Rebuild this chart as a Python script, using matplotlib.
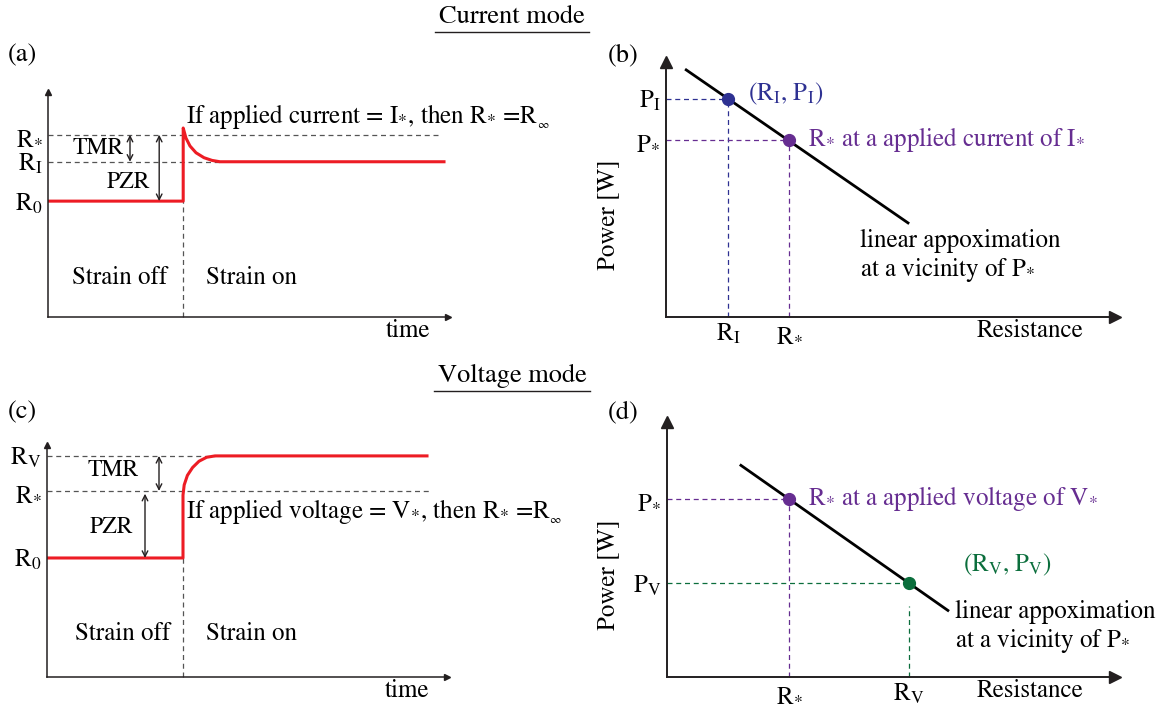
import matplotlib
matplotlib.use("Agg")
import matplotlib.pyplot as plt
from matplotlib.lines import Line2D

plt.rcParams['font.family'] = ['STIXGeneral', 'DejaVu Serif']
plt.rcParams['mathtext.fontset'] = 'stix'

# ---- data (schematic units, 0..10 on every axis) ----
# (a) current mode: resistance vs time
t_switch_a = 3.38
a_R0, a_RI, a_Rstar = 5.15, 6.9, 8.1
a_trace_t = [0, 3.38, 3.38, 3.45, 3.55, 3.7, 3.9, 4.1, 4.3, 9.9]
a_trace_r = [5.15, 5.15, 8.4, 7.95, 7.6, 7.3, 7.08, 6.96, 6.9, 6.9]

# (c) voltage mode: resistance vs time
t_switch_c = 3.4
c_R0, c_Rstar, c_RV = 5.13, 8.02, 9.53
c_trace_t = [0, 3.4, 3.4, 3.43, 3.51, 3.64, 3.8, 3.99, 4.2, 9.5]
c_trace_r = [5.13, 5.13, 7.84, 8.28, 8.69, 9.03, 9.30, 9.47, 9.53, 9.53]

# (b) power vs resistance, current mode
b_line_R = [0.45, 5.39]
b_line_P = [9.69, 3.69]
b_RI, b_PI = 1.38, 8.55
b_Rs, b_Ps = 2.74, 6.94

# (d) power vs resistance, voltage mode
d_line_R = [1.65, 6.27]
d_line_P = [8.30, 2.61]
d_Rs, d_Ps = 2.72, 6.98
d_RV, d_PV = 5.40, 3.68

S = r'_{\text{*}}'          # small asterisk subscript
RS = r'R$' + S + '$'
RINF = r'R$_{{}_\infty}$'
a_ticks = [a_R0, a_RI, a_Rstar]
a_ticklabels = [r'R$_0$', r'R$_\mathrm{I}$', RS]
c_ticks = [c_R0, c_Rstar, c_RV]
c_ticklabels = [r'R$_0$', RS, r'R$_\mathrm{V}$']

RED = '#ed1c24'
BLUE = '#2e3192'
PURPLE = '#662d91'
GREEN = '#0b6e3c'
GREY = '#555555'
FS = 18

fig = plt.figure(figsize=(11.75, 7.09), dpi=100)
W, H = 1175, 709


def px_axes(x0, y0, x1, y1):
    return fig.add_axes([x0 / W, 1 - y1 / H, (x1 - x0) / W, (y1 - y0) / H])


def setup(ax, lw, ms, xt, xtl, yt, ytl):
    ax.set_xlim(0, 10)
    ax.set_ylim(0, 10)
    for s in ['top', 'right']:
        ax.spines[s].set_visible(False)
    for s in ['left', 'bottom']:
        ax.spines[s].set_linewidth(lw)
        ax.spines[s].set_color('#231f20')
    ax.set_xticks(xt)
    ax.set_xticklabels(xtl)
    ax.set_yticks(yt)
    ax.set_yticklabels(ytl)
    ax.tick_params(length=0, labelsize=FS, pad=4)
    ax.plot(1, 0, '>', color='#231f20', ms=ms, transform=ax.transAxes, clip_on=False)
    ax.plot(0, 1, '^', color='#231f20', ms=ms, transform=ax.transAxes, clip_on=False)
    ax.patch.set_alpha(0)


def dash(ax, x, y, color, lw=0.9):
    ax.plot(x, y, color=color, lw=lw, dashes=(4, 3), clip_on=False)


def darrow(ax, x, y0, y1):
    ax.annotate('', xy=(x, y1), xytext=(x, y0),
                arrowprops=dict(arrowstyle='<->', lw=1.0, color='#231f20',
                                shrinkA=0, shrinkB=0, mutation_scale=10))


# ---------- (a) ----------
ax_a = px_axes(48, 92, 448, 317)
setup(ax_a, 1.1, 5, [], [], a_ticks, a_ticklabels)
dash(ax_a, [0, 9.8], [a_Rstar, a_Rstar], GREY)
dash(ax_a, [0, 4.3], [a_RI, a_RI], GREY)
dash(ax_a, [t_switch_a, t_switch_a], [0, a_R0], GREY)
ax_a.plot(a_trace_t, a_trace_r, color=RED, lw=2.2, solid_joinstyle='round')
darrow(ax_a, 2.05, a_Rstar, a_RI)
darrow(ax_a, 2.78, a_Rstar, a_R0)
ax_a.text(1.25, 7.5, 'TMR', fontsize=FS - 1, ha='center', va='center')
ax_a.text(2.0, 6.0, 'PZR', fontsize=FS - 1, ha='center', va='center')
ax_a.text(3.45, 8.9, 'If applied current = I$' + S + '$, then ' + RS + ' =' + RINF,
          fontsize=FS, ha='left', va='center')
ax_a.text(1.8, 1.75, 'Strain off', fontsize=FS, ha='center', va='center')
ax_a.text(5.1, 1.75, 'Strain on', fontsize=FS, ha='center', va='center')
ax_a.text(0.9, -0.06, 'time', fontsize=FS, ha='center', va='center', transform=ax_a.transAxes)

# ---------- (c) ----------
ax_c = px_axes(47, 445, 447, 677)
setup(ax_c, 1.1, 5, [], [], c_ticks, c_ticklabels)
dash(ax_c, [0, 4.2], [c_RV, c_RV], GREY)
dash(ax_c, [0, 9.6], [c_Rstar, c_Rstar], GREY)
dash(ax_c, [t_switch_c, t_switch_c], [0, c_R0], GREY)
ax_c.plot(c_trace_t, c_trace_r, color=RED, lw=2.2, solid_joinstyle='round')
darrow(ax_c, 2.8, c_RV, c_Rstar)
darrow(ax_c, 2.45, c_Rstar - 0.12, c_R0)
ax_c.text(1.65, 8.9, 'TMR', fontsize=FS - 1, ha='center', va='center')
ax_c.text(1.62, 6.45, 'PZR', fontsize=FS - 1, ha='center', va='center')
ax_c.text(3.48, 7.15, 'If applied voltage = V$' + S + '$, then ' + RS + ' =' + RINF,
          fontsize=FS, ha='left', va='center')
ax_c.text(1.88, 1.85, 'Strain off', fontsize=FS, ha='center', va='center')
ax_c.text(5.12, 1.85, 'Strain on', fontsize=FS, ha='center', va='center')
ax_c.text(0.9, -0.06, 'time', fontsize=FS, ha='center', va='center', transform=ax_c.transAxes)

# ---------- (b) ----------
ax_b = px_axes(666, 62, 1115, 317)
setup(ax_b, 1.4, 9, [b_RI, b_Rs], [r'R$_\mathrm{I}$', RS],
      [b_Ps, b_PI], ['P$' + S + '$', r'P$_\mathrm{I}$'])
dash(ax_b, [0, b_RI], [b_PI, b_PI], BLUE)
dash(ax_b, [b_RI, b_RI], [0, b_PI], BLUE)
dash(ax_b, [0, b_Rs], [b_Ps, b_Ps], PURPLE)
dash(ax_b, [b_Rs, b_Rs], [0, b_Ps], PURPLE)
ax_b.plot(b_line_R, b_line_P, color='black', lw=2.0)
ax_b.plot([b_RI], [b_PI], 'o', color=BLUE, ms=8.5)
ax_b.plot([b_Rs], [b_Ps], 'o', color=PURPLE, ms=8.5)
ax_b.text(1.83, 8.75, r'(R$_\mathrm{I}$, P$_\mathrm{I}$)', color=BLUE, fontsize=FS,
          ha='left', va='center')
ax_b.text(3.16, 6.95, RS + ' at a applied current of I$' + S + '$', color=PURPLE, fontsize=FS,
          ha='left', va='center')
ax_b.text(4.32, 3.0, 'linear appoximation', fontsize=FS, ha='left', va='center')
ax_b.text(4.32, 1.85, 'at a vicinity of P$' + S + '$', fontsize=FS, ha='left', va='center')
ax_b.text(0.81, -0.055, 'Resistance', fontsize=FS, ha='center', va='center',
          transform=ax_b.transAxes)
ax_b.set_ylabel('Power [W]', fontsize=FS)
ax_b.yaxis.set_label_coords(-0.102, 0.40)

# ---------- (d) ----------
ax_d = px_axes(667, 422, 1115, 677)
setup(ax_d, 1.4, 9, [d_Rs, d_RV], [RS, r'R$_\mathrm{V}$'],
      [d_PV, d_Ps], [r'P$_\mathrm{V}$', 'P$' + S + '$'])
dash(ax_d, [0, d_Rs], [d_Ps, d_Ps], PURPLE)
dash(ax_d, [d_Rs, d_Rs], [0, d_Ps], PURPLE)
dash(ax_d, [0, d_RV], [d_PV, d_PV], GREEN)
dash(ax_d, [d_RV, d_RV], [0, 2.78], GREEN)
ax_d.plot(d_line_R, d_line_P, color='black', lw=2.0)
ax_d.plot([d_Rs], [d_Ps], 'o', color=PURPLE, ms=8.5)
ax_d.plot([d_RV], [d_PV], 'o', color=GREEN, ms=8.5)
ax_d.text(3.15, 7.0, RS + ' at a applied voltage of V$' + S + '$', color=PURPLE, fontsize=FS,
          ha='left', va='center')
ax_d.text(6.6, 4.4, r'(R$_\mathrm{V}$, P$_\mathrm{V}$)', color=GREEN, fontsize=FS,
          ha='left', va='center')
ax_d.text(6.43, 2.55, 'linear appoximation', fontsize=FS, ha='left', va='center')
ax_d.text(6.43, 1.42, 'at a vicinity of P$' + S + '$', fontsize=FS, ha='left', va='center')
ax_d.text(0.81, -0.055, 'Resistance', fontsize=FS, ha='center', va='center',
          transform=ax_d.transAxes)
ax_d.set_ylabel('Power [W]', fontsize=FS)
ax_d.yaxis.set_label_coords(-0.105, 0.40)

# ---------- panel labels and titles ----------
for lab, x, y in [('(a)', 8, 55), ('(b)', 608, 55), ('(c)', 8, 412), ('(d)', 608, 412)]:
    fig.text(x / W, 1 - y / H, lab, fontsize=FS + 1, ha='left', va='center')

titles = [fig.text(512 / W, 1 - 17 / H, 'Current mode', fontsize=19, ha='center', va='center'),
          fig.text(512 / W, 1 - 376 / H, 'Voltage mode', fontsize=19, ha='center', va='center')]
fig.canvas.draw()
inv = fig.transFigure.inverted()
for t in titles:
    bb = t.get_window_extent()
    (x0, y0), (x1, y1) = inv.transform([[bb.x0 - 4, bb.y0 - 3], [bb.x1 + 4, bb.y1]])
    fig.add_artist(Line2D([x0, x1], [y0, y0], transform=fig.transFigure,
                          color='#231f20', lw=1.0))

fig.savefig('out.png', dpi=100)
